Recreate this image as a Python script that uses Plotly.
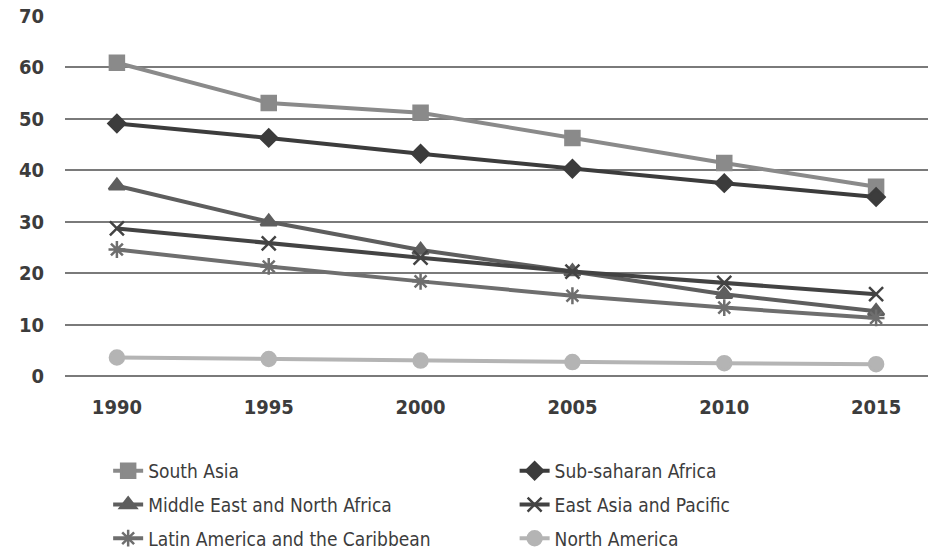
import plotly.graph_objects as go

years = ["1990", "1995", "2000", "2005", "2010", "2015"]

south_asia = [60.9, 53.1, 51.2, 46.3, 41.4, 36.8]
sub_saharan_africa = [49.1, 46.3, 43.2, 40.3, 37.5, 34.8]
middle_east_north_africa = [37.0, 30.0, 24.5, 20.3, 15.9, 12.6]
east_asia_pacific = [28.7, 25.8, 23.0, 20.3, 18.1, 15.9]
latin_america_caribbean = [24.6, 21.3, 18.4, 15.6, 13.3, 11.3]
north_america = [3.6, 3.3, 3.0, 2.7, 2.5, 2.3]

# name, values, colour, marker symbol, marker size, legend column
series = [
    ("South Asia", south_asia, "#8a8a8a", "square", 14, "legend"),
    ("Sub-saharan Africa", sub_saharan_africa, "#3c3c3c", "diamond", 13, "legend2"),
    ("Middle East and North Africa", middle_east_north_africa, "#5e5e5e", "triangle-up", 14, "legend"),
    ("East Asia and Pacific", east_asia_pacific, "#434343", "x-thin-open", 14, "legend2"),
    ("Latin America and the Caribbean", latin_america_caribbean, "#6e6e6e", "asterisk-open", 14, "legend"),
    ("North America", north_america, "#b4b4b4", "circle", 14, "legend2"),
]

FONT = "DejaVu Sans Condensed, Liberation Sans Narrow, Liberation Sans, sans-serif"

fig = go.Figure()
for name, vals, color, symbol, msize, leg in series:
    fig.add_trace(go.Scatter(
        x=years, y=vals, name=name, mode="lines+markers",
        legend=leg, legendgroup=name,
        line=dict(color=color, width=4),
        marker=dict(symbol=symbol, size=msize, color=color,
                    line=dict(color=color, width=2.5)),
    ))

legend_common = dict(
    orientation="v", yanchor="top", xanchor="left",
    tracegroupgap=6, itemwidth=30,
    font=dict(size=19, family=FONT, color="#3c3c3c"),
    bgcolor="rgba(0,0,0,0)",
)

fig.update_layout(
    width=949, height=554,
    margin=dict(l=65, r=21, t=16, b=178, autoexpand=False),
    paper_bgcolor="white", plot_bgcolor="white",
    font=dict(family=FONT, color="#3c3c3c"),
    xaxis=dict(
        type="category", showgrid=False, showline=False, zeroline=False,
        automargin=False,
        ticks="outside", ticklen=13, tickcolor="rgba(0,0,0,0)",
        tickfont=dict(size=20, family=FONT, color="#3c3c3c", weight="bold"),
    ),
    yaxis=dict(
        range=[0, 70], dtick=10, showgrid=True, gridcolor="#7a7a7a", gridwidth=2,
        zeroline=True, zerolinecolor="#7a7a7a", zerolinewidth=2,
        automargin=False,
        showline=False, ticks="outside", ticklen=16, tickcolor="rgba(0,0,0,0)",
        tickfont=dict(size=20, family=FONT, color="#3c3c3c", weight="bold"),
    ),
    legend=dict(x=0.05, y=-0.211, **legend_common),
    legend2=dict(x=0.521, y=-0.211, **legend_common),
    showlegend=True,
)

fig.write_html("out.html")
